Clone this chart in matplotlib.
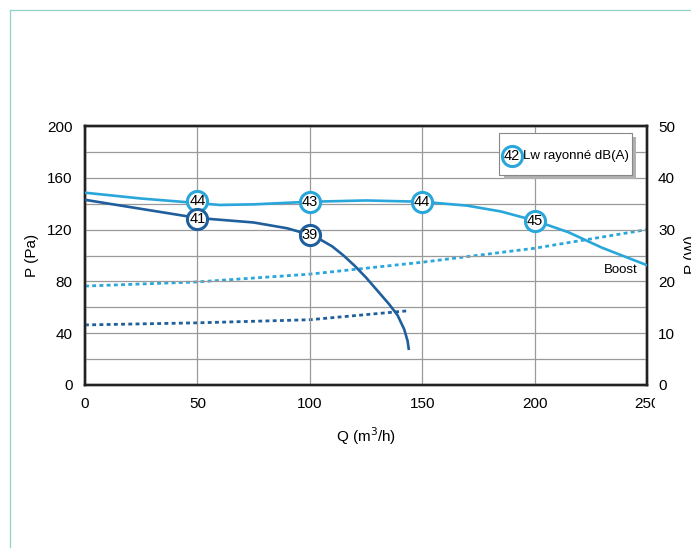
import matplotlib as mpl
mpl.rcParams['font.family'] = ['Liberation Sans', 'DejaVu Sans']
import matplotlib.pyplot as plt
from matplotlib.patches import Rectangle
from matplotlib.lines import Line2D

# %% data
# pressure curves, P (Pa) vs Q (m3/h)
q_boost = [0, 25, 50, 60, 75, 100, 125, 150, 170, 185, 200, 215, 230, 250]
p_boost = [148.5, 144, 140.5, 139, 139.5, 141.5, 142.5, 141.5, 138.5, 134, 127, 118, 106, 92.5]
q_norm = [0, 25, 50, 75, 90, 100, 105, 110, 115, 120, 125, 129, 135, 139, 142, 143.5, 144]
p_norm = [143, 136, 129, 125.5, 121, 116, 112, 107, 100, 92, 83, 75, 63, 54, 43, 34, 28]

# power curves, P (W) vs Q (m3/h)
q_w_boost = [0, 50, 100, 150, 200, 250]
w_boost = [19.1, 19.9, 21.4, 23.7, 26.4, 30.0]
q_w_norm = [0, 50, 100, 143]
w_norm = [11.6, 12.0, 12.6, 14.3]

# radiated sound power markers, dB(A)
q_lw_boost = [50, 100, 150, 200]
p_lw_boost = [142, 141, 141, 126.5]
lw_boost = ['44', '43', '44', '45']
q_lw_norm = [50, 100]
p_lw_norm = [128.5, 116]
lw_norm = ['41', '39']

x_ticks = [0, 50, 100, 150, 200, 250]
y_ticks = [0, 40, 80, 120, 160, 200]
y2_ticks = [0, 10, 20, 30, 40, 50]

light = '#29a6da'
dark = '#1f5f9c'

# %% figure
fig = plt.figure(figsize=(6.91, 5.48), dpi=100)
ax = fig.add_axes([85 / 691, 1 - 385 / 548, 562 / 691, 259 / 548])
ax2 = ax.twinx()

ax.set_xlim(0, 250)
ax.set_ylim(0, 200)
ax2.set_ylim(0, 50)

ax.set_xticks(range(0, 251, 50))
ax.set_yticks(range(0, 201, 20))
ax.set_yticklabels([str(v) if v in y_ticks else '' for v in range(0, 201, 20)])
ax.set_xticklabels([str(v) for v in x_ticks])
ax2.set_yticks(y2_ticks)
ax.grid(True, color='#9a9a9a', lw=0.9)
ax.set_axisbelow(True)
ax.tick_params(length=0, labelsize=11, pad=9)
ax2.tick_params(length=0, labelsize=11, pad=8)
for a in (ax, ax2):
    for s in a.spines.values():
        s.set_linewidth(1.7)
        s.set_color('#222222')

ax.plot(q_boost, p_boost, color=light, lw=1.9, zorder=3)
ax.plot(q_norm, p_norm, color=dark, lw=1.9, zorder=3)
ax2.plot(q_w_boost, w_boost, color=light, lw=2.0, ls=(0, (1.4, 1.2)), zorder=3)
ax2.plot(q_w_norm, w_norm, color=dark, lw=2.0, ls=(0, (1.4, 1.2)), zorder=3)

# markers on the front axes
ax.set_zorder(ax2.get_zorder() + 1)
ax.patch.set_visible(False)

for q, p, t in zip(q_lw_boost, p_lw_boost, lw_boost):
    ax.plot(q, p, 'o', ms=14.5, mfc='white', mec=light, mew=2.2, zorder=5)
    ax.text(q, p, t, ha='center', va='center', fontsize=10.5, zorder=6)
for q, p, t in zip(q_lw_norm, p_lw_norm, lw_norm):
    ax.plot(q, p, 'o', ms=14.5, mfc='white', mec=dark, mew=2.2, zorder=5)
    ax.text(q, p, t, ha='center', va='center', fontsize=10.5, zorder=6)

ax.text(246, 88.5, 'Boost', ha='right', va='center', fontsize=9.5)

# legend box with shadow
ax.add_patch(Rectangle((0.745, 0.795), 0.236, 0.162, transform=ax.transAxes,
                       facecolor='#b0b0b0', edgecolor='none', zorder=6))
ax.add_patch(Rectangle((0.737, 0.811), 0.236, 0.162, transform=ax.transAxes,
                       facecolor='white', edgecolor='#888888', lw=0.8, zorder=7))
ax.plot(0.759, 0.886, 'o', ms=14.5, mfc='white', mec=light, mew=2.2,
        transform=ax.transAxes, zorder=8, clip_on=False)
ax.text(0.759, 0.886, '42', ha='center', va='center', fontsize=10.5,
        transform=ax.transAxes, zorder=9)
ax.text(0.780, 0.886, 'Lw rayonné dB(A)', ha='left', va='center', fontsize=9.5,
        transform=ax.transAxes, zorder=9)

ax.set_xlabel('Q (m$^3$/h)', fontsize=11, labelpad=10)
ax.set_ylabel('P (Pa)', fontsize=11, labelpad=6)
fig.text(684 / 691, 1 - 255 / 548, 'P (W)', rotation=90, ha='left', va='center', fontsize=11)

# the "250" label is cut off in the source picture
fig.patches.append(Rectangle((655 / 691, 1 - 425 / 548), 0.2, 30 / 548,
                             transform=fig.transFigure, facecolor='white',
                             edgecolor='none', zorder=20))

# teal frame
fig.add_artist(Line2D([10 / 691, 10 / 691], [0, 1 - 10 / 548], color='#8fd3c6', lw=0.9))
fig.add_artist(Line2D([10 / 691, 1], [1 - 10 / 548, 1 - 10 / 548], color='#8fd3c6', lw=0.9))

fig.savefig('out.png', dpi=100)
